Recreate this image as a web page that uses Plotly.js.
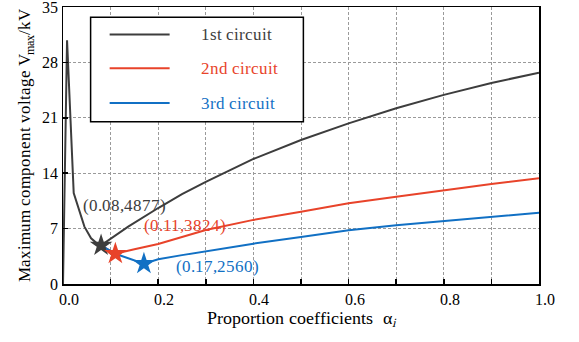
<!DOCTYPE html>
<html>
<head>
<meta charset="utf-8">
<script src="https://cdn.plot.ly/plotly-3.0.1.min.js"></script>
<style>
@font-face{font-family:'SerifX';src:local('Liberation Serif'),local('LiberationSerif'),local('LiberationSerif-Regular'),local('Times New Roman'),local('DejaVu Serif'),local('DejaVuSerif');}
html,body{margin:0;padding:0;background:#fff;}
#chart{width:579px;height:342px;}
</style>
</head>
<body>
<div id="chart"></div>
<script>
// ---- data ----
const seriesNames = ["1st circuit", "2nd circuit", "3rd circuit"];
const x1 = [0, 0.0085, 0.0225, 0.031, 0.045, 0.059, 0.07, 0.08, 0.1, 0.137, 0.2, 0.25, 0.3, 0.4, 0.5, 0.6, 0.7, 0.8, 0.9, 1.0];
const y1 = [0, 30.8, 11.5, 9.8, 7.25, 5.77, 5.2, 4.877, 5.7, 7.24, 9.6, 11.35, 12.9, 15.8, 18.2, 20.3, 22.2, 23.9, 25.4, 26.7];
const x2 = [0.08, 0.11, 0.15, 0.2, 0.3, 0.4, 0.5, 0.6, 0.7, 0.8, 0.9, 1.0];
const y2 = [4.877, 3.824, 4.4, 5.05, 6.82, 8.1, 9.14, 10.2, 11.03, 11.88, 12.64, 13.35];
const x3 = [0.08, 0.11, 0.17, 0.2, 0.25, 0.3, 0.4, 0.5, 0.6, 0.7, 0.8, 0.9, 1.0];
const y3 = [4.877, 3.824, 2.56, 3.12, 3.65, 4.15, 5.1, 5.95, 6.8, 7.41, 7.92, 8.5, 9.0];
const optX = [0.08, 0.11, 0.17];
const optY = [4.877, 3.824, 2.56];
const optLabels = ["(0.08,4877)", "(0.11,3824)", "(0.17,2560)"];
const xTickVals = [0, 0.1, 0.2, 0.3, 0.4, 0.5, 0.6, 0.7, 0.8, 0.9, 1.0];
const xTickText = ["0.0", "", "0.2", "", "0.4", "", "0.6", "", "0.8", "", "1.0"];
const yTickVals = [0, 7, 14, 21, 28, 35];

// ---- style ----
const colors = ["#3d3d3d", "#e8432a", "#1170c4"];
const FONT = "SerifX";
const FS = 17;

const traces = [
  {x: x1, y: y1, mode: "lines", line: {color: colors[0], width: 2}, name: seriesNames[0], showlegend: false},
  {x: x2, y: y2, mode: "lines", line: {color: colors[1], width: 2}, name: seriesNames[1], showlegend: false},
  {x: x3, y: y3, mode: "lines", line: {color: colors[2], width: 2}, name: seriesNames[2], showlegend: false}
];
for (let i = 0; i < 3; i++) {
  traces.push({x: [optX[i]], y: [optY[i]], mode: "markers",
    marker: {symbol: "star", size: 17, color: colors[i], line: {width: 0}}, showlegend: false});
}

// annotation text positions (data coords of label centres)
const annPos = [[0.13, 9.98], [0.256, 7.33], [0.325, 2.19]];
const annotations = optLabels.map((t, i) => ({
  x: annPos[i][0], y: annPos[i][1], xref: "x", yref: "y", text: t, showarrow: false,
  font: {family: FONT, size: FS, color: colors[i]}, xanchor: "center", yanchor: "middle"
}));

// manual legend (paper coords)
const shapes = [{type: "rect", xref: "paper", yref: "paper", x0: 0.058, x1: 0.505, y0: 0.586, y1: 0.963,
  line: {color: "#000", width: 1.5}, fillcolor: "#fff", layer: "above"}];
const legY = [0.901, 0.779, 0.653];
for (let i = 0; i < 3; i++) {
  shapes.push({type: "line", xref: "paper", yref: "paper", x0: 0.098, x1: 0.224, y0: legY[i], y1: legY[i],
    line: {color: colors[i], width: 2}, layer: "above"});
  annotations.push({xref: "paper", yref: "paper", x: 0.286, y: legY[i], text: seriesNames[i], showarrow: false,
    xanchor: "left", yanchor: "middle", font: {family: FONT, size: FS, color: colors[i]}});
}

const axisCommon = {
  showline: true, linecolor: "#000", linewidth: 1.5, mirror: true,
  ticks: "inside", ticklen: 5, tickwidth: 1.5, tickcolor: "#000",
  showgrid: true, gridcolor: "#9a9a9a", gridwidth: 1, griddash: "3px,2px",
  zeroline: false, ticklabeloverflow: "allow",
  tickfont: {family: FONT, size: 16, color: "#000"}
};

const layout = {
  width: 579, height: 342,
  margin: {l: 63, r: 40, t: 7, b: 58},
  paper_bgcolor: "#fff", plot_bgcolor: "#fff",
  showlegend: false,
  font: {family: FONT},
  xaxis: Object.assign({}, axisCommon, {
    range: [0, 1], tickmode: "array", tickvals: xTickVals, ticktext: xTickText, ticklabelshift: 6,
    title: {text: "Proportion coefficients &nbsp;α<sub><i>i</i></sub>", font: {family: FONT, size: 18, color: "#000"}, standoff: 2}
  }),
  yaxis: Object.assign({}, axisCommon, {
    range: [0, 35], tickmode: "array", tickvals: yTickVals, ticktext: yTickVals.map(String),
    title: {text: "Maximum component voltage V<sub>max</sub>/kV", font: {family: FONT, size: 16.7, color: "#000"}, standoff: 7}
  }),
  shapes: shapes,
  annotations: annotations
};

Plotly.newPlot("chart", traces, layout, {displayModeBar: false, staticPlot: true});
</script>
</body>
</html>
